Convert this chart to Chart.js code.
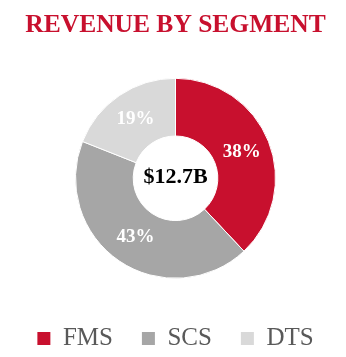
<!DOCTYPE html>
<html>
<head>
<meta charset="utf-8">
<script src="https://cdn.jsdelivr.net/npm/chart.js@4"></script>
<style>
  html, body { margin: 0; padding: 0; background: #fff; }
  #wrap { width: 346px; height: 357px; }
</style>
</head>
<body>
<div id="wrap"><canvas id="DonutChart"></canvas></div>
<script>
const segments = ['FMS', 'SCS', 'DTS'];
const shares = [38, 43, 19];
const colors = ['#C8102E', '#A6A6A6', '#D9D9D9'];
const totalLabel = '$12.7B';

const serif = '"Liberation Serif", "Times New Roman", serif';

// percent labels on each slice + total in the hole
const sliceLabels = {
  id: 'sliceLabels',
  afterDatasetsDraw(chart) {
    const ctx = chart.ctx;
    const meta = chart.getDatasetMeta(0);
    ctx.save();
    ctx.textAlign = 'center';
    ctx.textBaseline = 'middle';
    ctx.fillStyle = '#fff';
    ctx.font = 'bold 19px ' + serif;
    meta.data.forEach((arc, i) => {
      const p = arc.tooltipPosition();
      ctx.fillText(shares[i] + '%', p.x, p.y);
    });
    const a = meta.data[0];
    ctx.fillStyle = '#000';
    ctx.font = 'bold 22px ' + serif;
    ctx.fillText(totalLabel, a.x, a.y - 1);
    ctx.restore();
  }
};

const dtx = document.getElementById('DonutChart');

new Chart(dtx, {
  type: 'doughnut',
  data: {
    labels: segments,
    datasets: [{
      data: shares,
      backgroundColor: colors,
      borderColor: '#fff',
      borderWidth: 1,
      hoverOffset: 0
    }]
  },
  options: {
    responsive: true,
    maintainAspectRatio: false,
    animation: false,
    radius: 100,
    cutout: 50,
    layout: { padding: { left: 5, top: 0, bottom: -4 } },
    events: [],
    plugins: {
      title: {
        display: true,
        text: 'REVENUE BY SEGMENT',
        color: '#C8102E',
        font: { family: serif, size: 25.5, weight: 'bold' },
        padding: { top: 10, bottom: 19 }
      },
      legend: {
        position: 'bottom',
        labels: {
          color: '#595959',
          font: { family: serif, size: 25 },
          boxWidth: 13,
          boxHeight: 13,
          padding: 29,
          generateLabels(chart) {
            const items = Chart.overrides.doughnut.plugins.legend.labels.generateLabels(chart);
            items.forEach(it => { it.lineWidth = 0; });
            return items;
          }
        }
      },
      tooltip: { enabled: false }
    }
  },
  plugins: [sliceLabels]
});
</script>
</body>
</html>
